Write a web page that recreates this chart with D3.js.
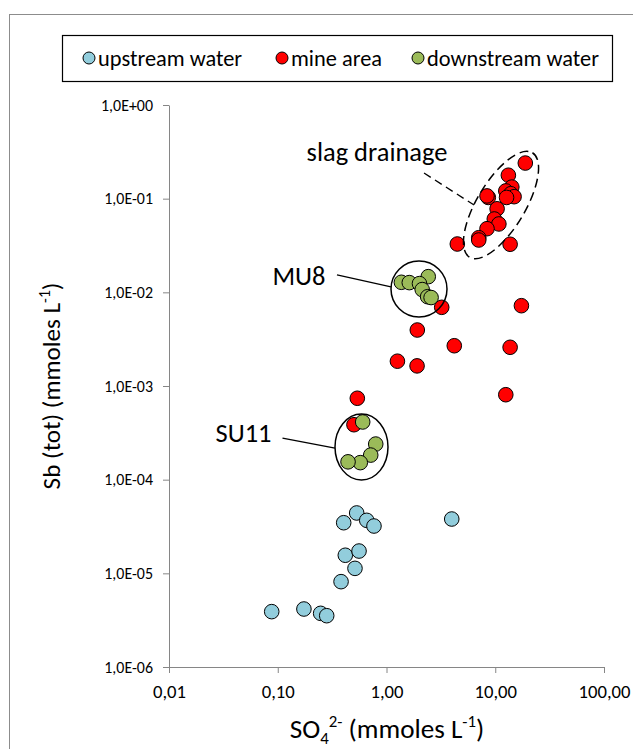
<!DOCTYPE html>
<html><head><meta charset="utf-8">
<script src="https://cdn.jsdelivr.net/npm/d3@7"></script>
<style>
html,body{margin:0;padding:0;background:#fff;}
text{font-family:Carlito,Lato,"Open Sans",sans-serif;fill:#000;}
</style></head>
<body><div id="chart"></div>
<script>
// ---- data ----
const seriesNames = ["upstream water", "mine area", "downstream water"];
const seriesColors = ["#92CDDC", "#FF0000", "#9BBB59"];
const upstreamSO4 = [0.088,0.174,0.248,0.282,0.382,0.513,0.418,0.559,0.404,0.532,0.658,0.767,3.98];
const upstreamSb  = [3.9e-6,4.16e-6,3.74e-6,3.53e-6,8.15e-6,1.13e-5,1.56e-5,1.73e-5,3.47e-5,4.41e-5,3.68e-5,3.2e-5,3.8e-5];
const mineSO4 = [18.9,13.2,14.2,12.5,13.9,14.9,12.7,8.63,8.4,10.4,9.8,10.8,8.4,7.05,7.05,4.48,13.7,3.22,17.4,1.92,4.2,13.7,1.26,1.91,0.539,12.5,0.502];
const mineSb  = [0.240,0.178,0.133,0.121,0.113,0.105,0.103,0.103,0.107,0.078,0.0607,0.0537,0.0478,0.0383,0.0362,0.0328,0.0326,6.92e-3,7.2e-3,3.96e-3,2.69e-3,2.59e-3,1.84e-3,1.64e-3,7.4e-4,8.07e-4,3.86e-4];
const downSO4 = [1.37,1.62,2.42,2.01,2.13,2.39,2.57,0.604,0.796,0.716,0.574,0.443];
const downSb  = [0.0128,0.0127,0.0147,0.0124,0.0107,8.98e-3,8.8e-3,4.13e-4,2.4e-4,1.83e-4,1.52e-4,1.55e-4];
const xTickValues = [0.01,0.1,1,10,100];
const xTickLabels = ["0,01","0,10","1,00","10,00","100,00"];
const yTickValues = [1,1e-1,1e-2,1e-3,1e-4,1e-5,1e-6];
const yTickLabels = ["1,0E+00","1,0E-01","1,0E-02","1,0E-03","1,0E-04","1,0E-05","1,0E-06"];
// annotation anchors (data coords)
const slagCenter = [11.3, 0.0855];
const mu8Center = [1.99, 0.01086];
const su11Center = [0.589, 2.23e-4];

// ---- layout ----
const W = 633, H = 749;
const svg = d3.select("#chart").append("svg").attr("width", W).attr("height", H);
const x = d3.scaleLog().domain([0.01, 100]).range([169, 604]);
const y = d3.scaleLog().domain([1e-6, 1]).range([667, 105]);
const axisColor = "#868686";

// size a font so a text sample reaches a target width
function fitSize(sample, base, target) {
  const t = svg.append("text").attr("font-size", base).text(sample);
  const w = t.node().getComputedTextLength();
  t.remove();
  return base * target / w;
}
const tickFs = fitSize("100,00", 16, 52);
const yTickFs = fitSize("1,0E+00", 14, 52);
const legendFs = fitSize("downstream water", 18, 172);
const annFs = fitSize("slag drainage", 20, 141);

// outer frame
svg.append("rect").attr("x", 9.5).attr("y", 14.5).attr("width", 700).attr("height", 800)
  .attr("fill", "none").attr("stroke", "#8c8c8c").attr("stroke-width", 1);

// axes
const gx = svg.append("g").attr("transform", "translate(0,667)")
  .call(d3.axisBottom(x).tickValues(xTickValues).tickSize(6).tickSizeOuter(0)
  .tickFormat((d,i) => xTickLabels[i]));
const gy = svg.append("g").attr("transform", "translate(169,0)")
  .call(d3.axisLeft(y).tickValues(yTickValues).tickSize(6).tickSizeOuter(0).tickPadding(10)
  .tickFormat(d => yTickLabels[yTickValues.indexOf(d)]));
[gx, gy].forEach(g => {
  g.attr("font-family", null);
  g.select(".domain").attr("stroke", axisColor);
  g.selectAll(".tick line").attr("stroke", axisColor);
  g.selectAll(".tick text").attr("fill", "#000");
});
gx.selectAll(".tick text").attr("font-size", tickFs).attr("y", 31).attr("dy", 0);
gy.selectAll(".tick text").attr("font-size", yTickFs);

// axis titles
function buildYTitle(fs) {
  const s = fs * 0.62;
  const t = svg.append("text").attr("transform", "translate(60,386) rotate(-90)").attr("text-anchor", "middle").attr("font-size", fs);
  t.append("tspan").text("Sb (tot) (mmoles L");
  t.append("tspan").attr("font-size", s).attr("dy", -fs*0.4).text("-1");
  t.append("tspan").attr("dy", fs*0.4).text(")");
  return t;
}
let yt = buildYTitle(20);
const yw = yt.node().getBBox().width; yt.remove();
const titleFs = 20 * 207 / yw;
yt = buildYTitle(titleFs);

function buildXTitle(fs) {
  const s = fs * 0.62;
  const t = svg.append("text").attr("x", 387).attr("y", 738).attr("text-anchor", "middle").attr("font-size", fs);
  t.append("tspan").text("SO");
  t.append("tspan").attr("font-size", s).attr("dy", fs*0.22).text("4");
  t.append("tspan").attr("font-size", s).attr("dy", -fs*0.62).text("2-");
  t.append("tspan").attr("dy", fs*0.4).text(" (mmoles L");
  t.append("tspan").attr("font-size", s).attr("dy", -fs*0.4).text("-1");
  t.append("tspan").attr("dy", fs*0.4).text(")");
  return t;
}
const xt = buildXTitle(titleFs * 1.08);

// points
const series = [
  {xs: upstreamSO4, ys: upstreamSb},
  {xs: mineSO4, ys: mineSb},
  {xs: downSO4, ys: downSb}
];
series.forEach((s, k) => {
  svg.append("g").selectAll("circle").data(s.xs.map((v, i) => [v, s.ys[i]])).join("circle")
    .attr("cx", d => x(d[0])).attr("cy", d => y(d[1])).attr("r", 7.3)
    .attr("fill", seriesColors[k]).attr("stroke", "#000").attr("stroke-width", 1);
});

// annotations
const sc = [x(slagCenter[0]), y(slagCenter[1])];
svg.append("ellipse").attr("cx", 0).attr("cy", 0).attr("rx", 61).attr("ry", 24)
  .attr("transform", `translate(${sc[0]},${sc[1]}) rotate(-59)`)
  .attr("fill", "none").attr("stroke", "#000").attr("stroke-width", 1.5).attr("stroke-dasharray", "9,5");
svg.append("line").attr("x1", sc[0]-77).attr("y1", sc[1]-32).attr("x2", sc[0]-27).attr("y2", sc[1])
  .attr("stroke", "#000").attr("stroke-width", 1.3).attr("stroke-dasharray", "8,5");
svg.append("text").attr("x", sc[0]-124).attr("y", sc[1]-44).attr("text-anchor", "middle").attr("font-size", annFs).text("slag drainage");

const mc = [x(mu8Center[0]), y(mu8Center[1])];
svg.append("circle").attr("cx", mc[0]).attr("cy", mc[1]).attr("r", 28)
  .attr("fill", "none").attr("stroke", "#000").attr("stroke-width", 1.5);
svg.append("line").attr("x1", mc[0]-82).attr("y1", mc[1]-14).attr("x2", mc[0]-28).attr("y2", mc[1]-2)
  .attr("stroke", "#000").attr("stroke-width", 1.3);
svg.append("text").attr("x", mc[0]-120).attr("y", mc[1]-4).attr("text-anchor", "middle").attr("font-size", annFs).text("MU8");

const uc = [x(su11Center[0]), y(su11Center[1])];
svg.append("ellipse").attr("cx", uc[0]).attr("cy", uc[1]).attr("rx", 26.5).attr("ry", 33)
  .attr("fill", "none").attr("stroke", "#000").attr("stroke-width", 1.5);
svg.append("line").attr("x1", uc[0]-79).attr("y1", uc[1]-9).attr("x2", uc[0]-26.5).attr("y2", uc[1]+1)
  .attr("stroke", "#000").attr("stroke-width", 1.3);
svg.append("text").attr("x", uc[0]-118).attr("y", uc[1]-5).attr("text-anchor", "middle").attr("font-size", annFs).text("SU11");

// legend
const lg = svg.append("g");
lg.append("rect").attr("x", 62.5).attr("y", 35.5).attr("width", 550).attr("height", 46)
  .attr("fill", "#fff").attr("stroke", "#000").attr("stroke-width", 1.2);
const legendPos = [89, 282, 418];
seriesNames.forEach((n, k) => {
  lg.append("circle").attr("cx", legendPos[k]).attr("cy", 58).attr("r", 6)
    .attr("fill", seriesColors[k]).attr("stroke", "#000").attr("stroke-width", 1);
  lg.append("text").attr("x", legendPos[k] + 9).attr("y", 58).attr("dy", "0.35em").attr("font-size", legendFs).text(n);
});
</script></body></html>
